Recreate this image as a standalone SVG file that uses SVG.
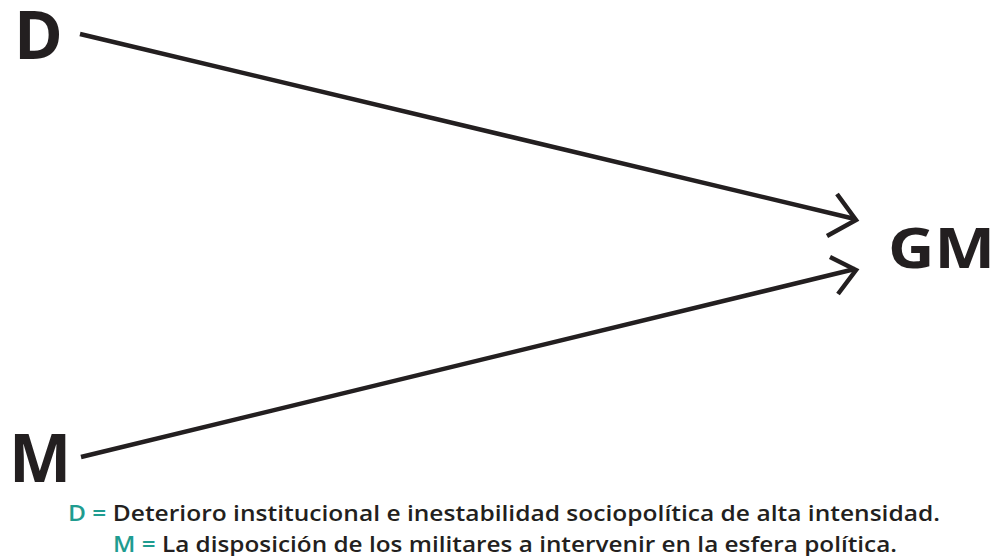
<svg xmlns="http://www.w3.org/2000/svg" width="997" height="556" viewBox="0 0 997 556">
<style>
.lbl{font-family:"Open Sans","Liberation Sans",sans-serif;font-weight:700;fill:#231f20}
.leg{font-family:"Open Sans","Liberation Sans",sans-serif;font-weight:600;font-size:22px;fill:#231f20}
.key{fill:#1f9c90}
.edge{stroke:#231f20;stroke-width:4.5;fill:none;stroke-linecap:butt;stroke-linejoin:miter}
</style>
<rect width="997" height="556" fill="#ffffff"/>
<g id="node-D"><text class="lbl" x="14" y="59" font-size="66">D</text></g>
<g id="node-M"><text class="lbl" x="9" y="482" font-size="66">M</text></g>
<g id="node-GM"><text class="lbl" x="888" y="268" font-size="56" textLength="107" lengthAdjust="spacingAndGlyphs">GM</text></g>
<g id="connectors">
<line class="edge" x1="80" y1="34" x2="855" y2="219"/>
<polyline class="edge" points="837,194 856,220 827,236"/>
<line class="edge" x1="81" y1="457" x2="855" y2="269"/>
<polyline class="edge" points="830,257 856,270 838,294"/>
</g>
<g id="legend">
<text class="leg" x="68" y="521" textLength="872" lengthAdjust="spacingAndGlyphs"><tspan class="key">D =</tspan> Deterioro institucional e inestabilidad sociopolítica de alta intensidad.</text>
<text class="leg" x="113" y="552" textLength="784" lengthAdjust="spacingAndGlyphs"><tspan class="key">M =</tspan> La disposición de los militares a intervenir en la esfera política.</text>
</g>
</svg>
